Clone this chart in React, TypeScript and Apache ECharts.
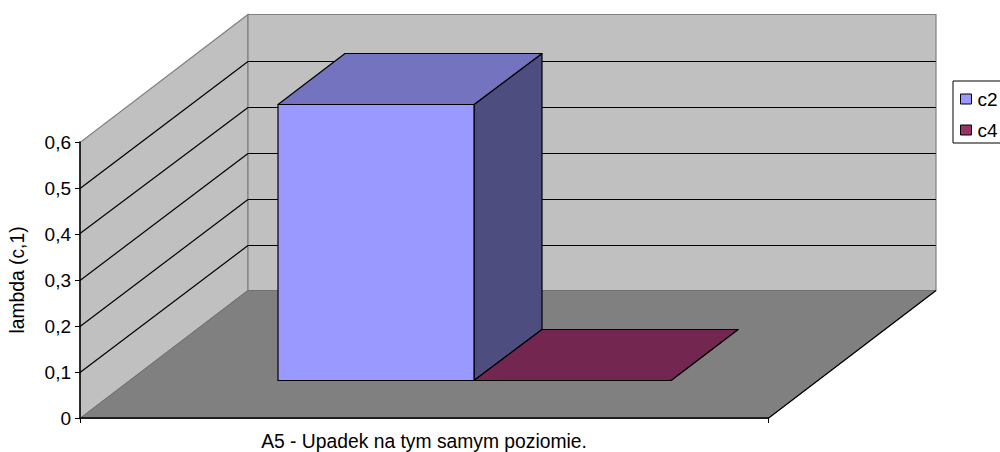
import React, { useEffect, useRef } from "react";
import * as echarts from "echarts";

const categories = ["A5 - Upadek na tym samym poziomie."];
const c2Values = [0.6];
const c4Values = [0];
const yTicks = [0, 0.1, 0.2, 0.3, 0.4, 0.5, 0.6];
const seriesNames = ["c2", "c4"];
const axisTitle = "lambda (c,1)";

const DX = 168;
const DY = -127.5;
const FONT = "'Liberation Sans', Arial, sans-serif";
const FS = 19;
const FS_AXIS_TEXT = 19.3;

const faces = [
  { front: "#9999FF", top: "#7373BF", side: "#4D4D80" },
  { front: "#993366", top: "#732650", side: "#4D1A33" },
];

function App() {
  const ref = useRef<HTMLDivElement>(null);
  useEffect(() => {
    document.body.style.margin = "0";
    const chart = echarts.init(ref.current!, undefined, { renderer: "svg" });

    const snapDown = (n: number) => Math.round(n - 0.5) + 0.5;
    const snapUp = (n: number) => Math.round(n) + 0.5;
    const project = (api: any, cat: number, frac: number, v: number, depth: number, snapY = snapDown) => {
      const c = api.coord([cat, v]);
      const w = api.size([1, 0])[0];
      return [snapUp(c[0] - w / 2 + frac * w + depth * DX) - 0.5, snapY(c[1] + depth * DY)];
    };

    const wallsRender = (_p: any, api: any) => {
      const P = (f: number, v: number, d: number) => project(api, 0, f, v, d);
      const Q = (f: number, v: number, d: number) => {
        const p = P(f, v, d);
        return [p[0], p[1] + 1];
      };
      const yMax = yTicks[yTicks.length - 1];
      const children: any[] = [
        {
          type: "polygon",
          shape: { points: [P(0, 0, 0), P(0, 0, 1), P(0, yMax, 1), P(0, yMax, 0)] },
          style: { fill: "#C0C0C0", stroke: "#808080", lineWidth: 1.2 },
        },
        {
          type: "polygon",
          shape: { points: [P(0, 0, 1), P(1, 0, 1), P(1, yMax, 1), P(0, yMax, 1)] },
          style: { fill: "#C0C0C0", stroke: "#808080", lineWidth: 1.2 },
        },
        {
          type: "polygon",
          shape: { points: [P(0, 0, 0), P(1, 0, 0), P(1, 0, 1), P(0, 0, 1)] },
          style: { fill: "#808080", stroke: "#707070", lineWidth: 1 },
        },
      ];
      const seg = (a: number[], b: number[], color: string, lw = 1) => ({
        type: "line",
        shape: { x1: a[0], y1: a[1], x2: b[0], y2: b[1] },
        style: { stroke: color, lineWidth: lw },
      });
      yTicks.slice(1, -1).forEach((t) => {
        children.push(seg(P(0, t, 0), Q(0, t, 1), "#000", 1.2));
        children.push(seg(Q(0, t, 1), Q(1, t, 1), "#000"));
      });
      children.push(seg(P(1, 0, 0), P(1, 0, 1), "#000", 1.2));
      return { type: "group", children };
    };

    const GAP = 1.5;
    const makeBar = (idx: number) => (_p: any, api: any) => {
      const cat = api.value(0);
      const v = api.value(1);
      const unit = 1 / (seriesNames.length + GAP);
      const f0 = (GAP / 2 + idx) * unit;
      const f1 = f0 + unit;
      const d0 = GAP / 2 / (1 + GAP);
      const d1 = 1 - d0;
      const P = (f: number, val: number, d: number) => project(api, cat, f, val, d, snapUp);
      const face = faces[idx];
      const stroke = { stroke: "#000", lineWidth: 1.2, lineJoin: "round" };
      return {
        type: "group",
        children: [
          {
            type: "polygon",
            shape: { points: [P(f1, 0, d0), P(f1, 0, d1), P(f1, v, d1), P(f1, v, d0)] },
            style: { fill: face.side, ...stroke },
          },
          {
            type: "polygon",
            shape: { points: [P(f0, v, d0), P(f1, v, d0), P(f1, v, d1), P(f0, v, d1)] },
            style: { fill: face.top, ...stroke },
          },
          {
            type: "polygon",
            shape: { points: [P(f0, 0, d0), P(f1, 0, d0), P(f1, v, d0), P(f0, v, d0)] },
            style: { fill: face.front, ...stroke },
          },
        ],
      };
    };

    chart.setOption({
      animation: false,
      backgroundColor: "#fff",
      textStyle: { fontFamily: FONT },
      grid: { left: 80, right: 232, top: 142, bottom: 34, outerBoundsMode: "none" },
      legend: {
        data: seriesNames,
        orient: "vertical",
        left: 953,
        top: 81,
        padding: [8, 8, 3, 7],
        itemGap: 11,
        itemWidth: 11,
        itemHeight: 10,
        icon: "rect",
        borderColor: "#000",
        borderWidth: 1,
        backgroundColor: "#fff",
        selectedMode: false,
        itemStyle: { borderColor: "#000", borderWidth: 1 },
        textStyle: { fontFamily: FONT, fontSize: FS, lineHeight: 20, color: "#000", padding: [0, 0, 0, 1] },
      },
      xAxis: {
        type: "category",
        data: categories,
        z: 5,
        axisLine: { lineStyle: { color: "#000", width: 1.5 } },
        axisTick: { show: true, length: 5, lineStyle: { color: "#000" } },
        axisLabel: { color: "#000", fontFamily: FONT, fontSize: FS_AXIS_TEXT, margin: 14 },
        splitLine: { show: false },
      },
      yAxis: {
        type: "value",
        min: 0,
        max: 0.6,
        interval: 0.1,
        z: 5,
        name: axisTitle,
        nameLocation: "middle",
        nameGap: 53,
        nameRotate: 90,
        nameTextStyle: { color: "#000", fontFamily: FONT, fontSize: FS_AXIS_TEXT },
        axisLine: { show: true, lineStyle: { color: "#000", width: 1.5 } },
        axisTick: { show: true, length: 5, lineStyle: { color: "#000" } },
        axisLabel: {
          color: "#000",
          fontFamily: FONT,
          fontSize: FS,
          margin: 9,
          formatter: (v: number) => String(v).replace(".", ","),
        },
        splitLine: { show: false },
      },
      series: [
        {
          type: "custom",
          name: "walls",
          silent: true,
          z: 1,
          renderItem: wallsRender,
          data: [[0, 0]],
        },
        {
          type: "custom",
          name: seriesNames[0],
          z: 2,
          itemStyle: { color: faces[0].front },
          renderItem: makeBar(0),
          data: c2Values.map((v, i) => [i, v]),
        },
        {
          type: "custom",
          name: seriesNames[1],
          z: 3,
          itemStyle: { color: faces[1].front },
          renderItem: makeBar(1),
          data: c4Values.map((v, i) => [i, v]),
        },
      ],
    });
    return () => chart.dispose();
  }, []);
  return <div ref={ref} style={{ width: 1000, height: 452 }} />;
}

export default App;
